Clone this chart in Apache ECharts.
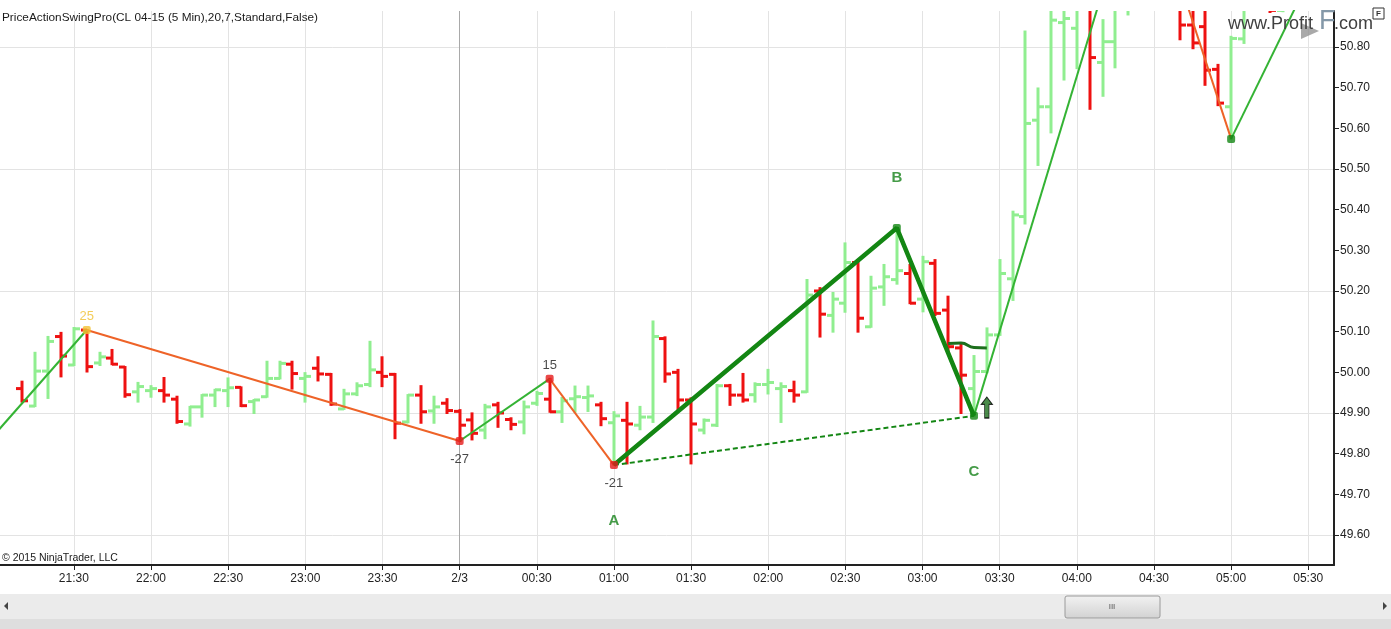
<!DOCTYPE html>
<html><head><meta charset="utf-8">
<script src="https://cdn.jsdelivr.net/npm/echarts@6/dist/echarts.min.js"></script>
<style>html,body{margin:0;padding:0;background:#fff}#c{width:1391px;height:629px}</style>
</head><body><div id="c"></div>
<script>
// ---- categories (5-min bars) ----
const categories = [
 '21:00','21:05','21:10','21:15','21:20','21:25','21:30','21:35','21:40','21:45','21:50','21:55',
 '22:00','22:05','22:10','22:15','22:20','22:25','22:30','22:35','22:40','22:45','22:50','22:55',
 '23:00','23:05','23:10','23:15','23:20','23:25','23:30','23:35','23:40','23:45','23:50','23:55',
 '00:00','00:05','00:10','00:15','00:20','00:25','00:30','00:35','00:40','00:45','00:50','00:55',
 '01:00','01:05','01:10','01:15','01:20','01:25','01:30','01:35','01:40','01:45','01:50','01:55',
 '02:00','02:05','02:10','02:15','02:20','02:25','02:30','02:35','02:40','02:45','02:50','02:55',
 '03:00','03:05','03:10','03:15','03:20','03:25','03:30','03:35','03:40','03:45','03:50','03:55',
 '04:00','04:05','04:10','04:15','04:20','04:25','04:30','04:35','04:40','04:45','04:50','04:55',
 '05:00','05:05','05:10','05:15','05:20','05:25','05:30','05:35','05:40'
];
const opens = [
 null,null,
 49.960,49.917,50.003,50.088,
 50.018,50.104,50.023,50.035,50.013,49.952,49.955,49.955,49.934,49.873,
 49.915,49.944,49.955,49.963,49.928,49.940,49.985,50.020,49.985,50.010,
 49.995,49.910,49.947,49.970,50.000,49.995,49.878,49.944,49.905,49.924,
 49.904,49.883,49.858,49.920,49.884,49.878,49.924,49.934,49.903,49.935,
 49.938,49.920,49.876,49.882,49.870,49.890,50.083,50.000,49.932,49.858,
 49.870,49.967,49.944,49.945,49.970,49.960,49.955,49.952,50.200,50.140,
 50.170,50.270,50.112,50.210,50.228,50.243,50.180,50.268,50.153,50.060,
 49.960,50.002,50.092,50.230,50.383,50.620,50.653,50.860,50.846,50.920,
 50.762,50.813,50.900,50.980,51.150,51.050,50.950,50.854,50.850,50.745,
 50.653,50.820,50.900,50.950,50.890,
 null,null,null,null
];
const highs = [
 null,null,
 49.977,50.048,50.087,50.097,
 50.109,50.104,50.048,50.055,50.013,49.974,49.966,49.986,49.940,49.915,
 49.944,49.957,49.985,49.963,49.932,50.026,50.026,50.026,49.998,50.037,
 49.996,49.957,49.973,50.075,50.037,49.996,49.944,49.966,49.940,49.934,
 49.907,49.899,49.920,49.925,49.887,49.928,49.952,49.984,49.937,49.965,
 49.965,49.925,49.902,49.925,49.915,50.125,50.086,50.006,49.936,49.884,
 49.969,49.969,49.996,49.973,50.006,49.973,49.977,50.227,50.207,50.195,
 50.317,50.276,50.235,50.264,50.355,50.264,50.284,50.276,50.186,50.071,
 50.040,50.108,50.276,50.395,50.838,50.698,50.920,50.930,50.940,50.950,
 50.866,50.920,51.000,51.250,51.200,51.080,50.980,50.900,50.900,50.756,
 50.825,50.920,50.980,50.990,50.960,
 null,null,null,null
];
const lows = [
 null,null,
 49.928,49.917,49.937,49.990,
 50.018,50.002,50.018,50.020,49.940,49.928,49.940,49.928,49.876,49.869,
 49.891,49.917,49.917,49.917,49.900,49.940,49.985,49.960,49.928,49.980,
 49.920,49.910,49.944,49.966,49.966,49.838,49.877,49.876,49.876,49.900,
 49.831,49.835,49.838,49.866,49.860,49.850,49.920,49.903,49.878,49.903,
 49.905,49.870,49.772,49.776,49.860,49.878,49.977,49.907,49.776,49.850,
 49.868,49.920,49.928,49.928,49.948,49.878,49.928,49.952,50.088,50.100,
 50.149,50.100,50.112,50.166,50.218,50.170,50.150,50.141,50.050,49.900,
 49.893,50.000,50.092,50.178,50.366,50.510,50.590,50.720,50.748,50.648,
 50.680,50.750,50.880,50.960,51.000,50.920,50.819,50.797,50.707,50.657,
 50.574,50.810,50.895,50.886,50.888,
 null,null,null,null
];
const closes = [
 null,null,
 49.930,50.003,50.076,50.040,
 50.107,50.014,50.038,50.020,49.945,49.965,49.960,49.944,49.879,49.915,
 49.944,49.957,49.962,49.918,49.932,49.985,50.022,49.997,49.990,49.996,
 49.922,49.947,49.967,50.006,49.990,49.875,49.944,49.903,49.915,49.906,
 49.870,49.850,49.915,49.900,49.872,49.915,49.948,49.903,49.930,49.940,
 49.942,49.886,49.893,49.873,49.890,50.088,49.996,49.932,49.873,49.882,
 49.967,49.944,49.932,49.970,49.975,49.965,49.944,50.190,50.143,50.180,
 50.270,50.133,50.207,50.235,50.250,50.170,50.272,50.145,50.063,49.993,
 50.002,50.092,50.243,50.387,50.612,50.653,50.866,50.870,50.900,50.774,
 50.813,50.900,50.980,51.150,51.050,50.950,50.854,50.810,50.743,50.662,
 50.821,50.900,50.950,50.890,50.940,
 null,null,null,null
];
// ---- swing zigzag ----
const zigTimes  = ['21:00','21:35','00:00','00:35','01:00','02:50','03:20','04:25','05:00','05:30'];
const zigPrices = [49.853, 50.104, 49.831, 49.984, 49.772, 50.355, 49.893, 51.250, 50.574, 50.962];
// ---- ABC pattern ----
const abcTimes  = ['01:00','02:50','03:20'];
const abcPrices = [49.772, 50.355, 49.893];
const abcLetters = ['A','B','C'];
const abcLetterPrices = [49.634, 50.478, 49.755];
// ---- short dark-green line ----
const curveTimes  = ['03:10','03:15','03:20','03:25'];
const curvePrices = [50.071, 50.072, 50.061, 50.060];
// ---- swing dots ----
const dotTimes  = ['21:35','00:00','00:35','01:00','02:50','03:20','05:00'];
const dotPrices = [50.104, 49.831, 49.984, 49.772, 50.355, 49.893, 50.574];
const dotLabels = ['25','-27','15','-21','','',''];
// ---- arrow ----
const arrowTime = '03:25', arrowPrice = 49.9135;
// ---- axes ----
const yTickValues = [49.6,49.7,49.8,49.9,50.0,50.1,50.2,50.3,50.4,50.5,50.6,50.7,50.8];
const hGridValues = [49.6,49.9,50.2,50.5,50.8];
const yMin = 49.5262, yMax = 50.8885;

const UP = '#90ee90', DOWN = '#ee1111';
const ZG = '#34b334', ZR = '#ee6328', DG = '#138613';

const ohlcData = [];
categories.forEach((t,i)=>{ if (opens[i] != null) ohlcData.push([i, opens[i], highs[i], lows[i], closes[i]]); });

function renderOHLC(params, api){
  const i = api.value(0), o = api.value(1), h = api.value(2), l = api.value(3), c = api.value(4);
  const pO = api.coord([i,o]), pH = api.coord([i,h]), pL = api.coord([i,l]), pC = api.coord([i,c]);
  const x = Math.round(pO[0]);
  const st = {stroke: c >= o ? UP : DOWN, lineWidth: 3, lineCap: 'butt'};
  return {type:'group', children:[
    {type:'line', shape:{x1:x, y1:pH[1]-1, x2:x, y2:pL[1]+1}, style:st},
    {type:'line', shape:{x1:x-6, y1:pO[1], x2:x, y2:pO[1]}, style:st},
    {type:'line', shape:{x1:x, y1:pC[1], x2:x+6, y2:pC[1]}, style:st}
  ]};
}

const series = [{
  type:'custom', renderItem: renderOHLC, data: ohlcData, clip: true, z: 2,
  encode: {x:0, y:[1,2,3,4]}, silent: true
}];
for (let j=0;j<zigTimes.length-1;j++){
  const up = zigPrices[j+1] > zigPrices[j];
  series.push({type:'line', data:[[zigTimes[j],zigPrices[j]],[zigTimes[j+1],zigPrices[j+1]]],
    symbol:'none', lineStyle:{color: up?ZG:ZR, width:2}, z:3, silent:true, clip:true});
}
series.push({type:'line', data:[[abcTimes[0],abcPrices[0]],[abcTimes[2],abcPrices[2]]], symbol:'none',
  lineStyle:{color:DG, width:2, type:[5,3]}, z:3, silent:true});
series.push({type:'line', data: abcTimes.map((t,i)=>[t,abcPrices[i]]), symbol:'none',
  lineStyle:{color:DG, width:4.5}, z:4, silent:true});
series.push({type:'line', data: curveTimes.map((t,i)=>[t,curvePrices[i]]), symbol:'none', smooth:true,
  lineStyle:{color:'#1d6f1d', width:3}, z:4, silent:true});
const dotColors = ['#f3c233','#e51c1c','#e51c1c','#e51c1c',DG,DG,DG];
series.push({type:'scatter', symbol:'roundRect', symbolSize:8, z:5, silent:true,
  data: dotTimes.map((t,i)=>({value:[t,dotPrices[i]], itemStyle:{color:dotColors[i]},
    label:{show: dotLabels[i]!=='', formatter: dotLabels[i],
      position: dotPrices[i] > 49.95 ? 'top' : 'bottom', distance: dotPrices[i] > 49.95 ? 3 : 8,
      color: i===0 ? '#f0c030' : '#1a1a1a', fontSize: 13, fontFamily:'Liberation Sans'}}))});
series.push({type:'scatter', symbolSize:0, z:6, silent:true,
  data: abcTimes.map((t,i)=>({value:[t,abcLetterPrices[i]],
    label:{show:true, position:'inside', formatter: abcLetters[i], color:'#17821a', fontSize:15, fontWeight:'bold', fontFamily:'Liberation Sans'}}))});
series.push({type:'scatter', z:6, silent:true,
  symbol:'path://M5,0 L10,7 L7,7 L7,20 L3,20 L3,7 L0,7 Z', symbolSize:[11,21],
  itemStyle:{color:'#1e6e1e', borderColor:'#000', borderWidth:1},
  data:[[arrowTime, arrowPrice]]});

const tickFn = (i,v)=> i>0 && (v.endsWith(':00') || v.endsWith(':30'));
const option = {
  animation:false,
  backgroundColor:'#fff',
  grid:{left:-3.28, right:57, top:11, bottom:64, outerBoundsMode:'none', containLabel:false},
  xAxis:[{
    type:'category', data:categories, boundaryGap:false, position:'bottom',
    axisLine:{lineStyle:{color:'#222', width:2}},
    axisTick:{interval:tickFn, length:5, lineStyle:{color:'#222', width:1}},
    axisLabel:{interval:tickFn, formatter:v=> v==='00:00' ? '2/3' : v, color:'#222', fontSize:12, margin:8, fontFamily:'Liberation Sans'},
    splitLine:{show:true, interval:(i,v)=> tickFn(i,v) && v!=='00:00', lineStyle:{color:'#e3e3e3', width:1}}
  },{
    type:'category', data:categories, boundaryGap:false, position:'bottom',
    axisLine:{show:false}, axisTick:{show:false}, axisLabel:{show:false},
    splitLine:{show:true, interval:(i,v)=> v==='00:00', lineStyle:{color:'#a9a9a9', width:1}}
  }],
  yAxis:[{
    type:'value', position:'right', min:yMin, max:yMax, scale:true,
    axisLine:{show:true, lineStyle:{color:'#222', width:2}},
    axisTick:{show:true, length:5, customValues:yTickValues, lineStyle:{color:'#222'}},
    axisLabel:{customValues:yTickValues, formatter:v=>Number(v).toFixed(2), color:'#222', fontSize:12, margin:6, fontFamily:'Liberation Sans', showMinLabel:true, showMaxLabel:true},
    splitLine:{show:false}
  },{
    type:'value', position:'right', min:yMin, max:yMax, scale:true,
    axisLine:{show:false}, axisTick:{show:false, customValues:hGridValues}, axisLabel:{show:false, customValues:hGridValues},
    splitLine:{show:true, showMinLine:true, showMaxLine:true, lineStyle:{color:'#e3e3e3', width:1}}
  }],
  series: series,
  graphic:[
    {type:'text', x:2, y:18, z:100, style:{text:'PriceActionSwingPro(CL 04-15 (5 Min),20,7,Standard,False)', font:'11.8px "Liberation Sans"', fill:'#1a1a1a', verticalAlign:'middle'}},
    {type:'text', x:2, y:558, z:100, style:{text:'\u00a9 2015 NinjaTrader, LLC', font:'10.5px "Liberation Sans"', fill:'#1a1a1a', verticalAlign:'middle'}},
    {type:'polygon', z:100, shape:{points:[[1301,23],[1319,31],[1301,39]]}, style:{fill:'rgba(140,140,140,0.75)'}},
    {type:'text', x:1228, y:24, z:101, style:{text:'www.Profit', font:'18px "Liberation Sans"', fill:'#404040', verticalAlign:'middle'}},
    {type:'text', x:1319, y:22, z:101, style:{text:'F', font:'27px "Liberation Sans"', fill:'#8498a8', verticalAlign:'middle'}},
    {type:'text', x:1334, y:24, z:101, style:{text:'.com', font:'18px "Liberation Sans"', fill:'#404040', verticalAlign:'middle'}},
    {type:'rect', z:101, shape:{x:1373,y:8,width:11,height:11}, style:{fill:'#fff', stroke:'#333', lineWidth:1}},
    {type:'text', x:1376, y:14, z:102, style:{text:'F', font:'bold 8px "Liberation Sans"', fill:'#333', verticalAlign:'middle'}},
    {type:'rect', z:100, shape:{x:0,y:594,width:1391,height:25}, style:{fill:'#ebebeb'}},
    {type:'rect', z:100, shape:{x:0,y:619,width:1391,height:10}, style:{fill:'#dedede'}},
    {type:'polygon', z:101, shape:{points:[[4,606],[8,602],[8,610]]}, style:{fill:'#444'}},
    {type:'polygon', z:101, shape:{points:[[1387,606],[1383,602],[1383,610]]}, style:{fill:'#444'}},
    {type:'rect', z:101, shape:{x:1065,y:596,width:95,height:22,r:2},
      style:{fill:new echarts.graphic.LinearGradient(0,0,0,1,[{offset:0,color:'#f2f2f2'},{offset:1,color:'#d2d2d2'}]), stroke:'#9a9a9a', lineWidth:1}},
    {type:'text', x:1112, y:607, z:102, style:{text:'III', font:'8px "Liberation Sans"', fill:'#555', align:'center', verticalAlign:'middle'}}
  ]
};
const chart = echarts.init(document.getElementById('c'), null, {renderer:'canvas'});
chart.setOption(option);
</script>
</body></html>
